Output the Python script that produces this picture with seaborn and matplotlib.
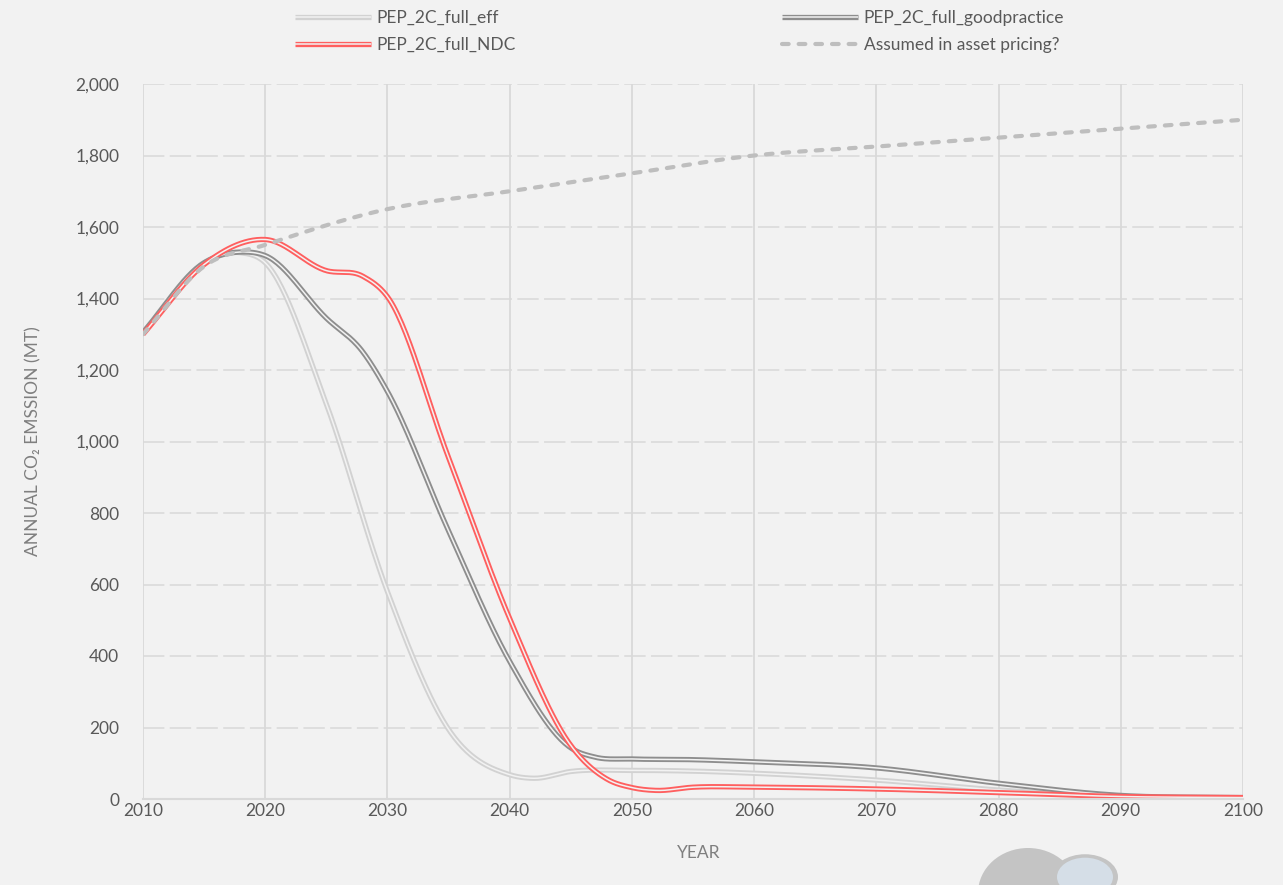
import numpy as np
import pandas as pd
import matplotlib
matplotlib.use("Agg")
import matplotlib.pyplot as plt
import matplotlib.patheffects as pe
from matplotlib.patches import Ellipse, Circle
import seaborn as sns

# ---- data (Mt CO2 per year) ----
eff_years = [2010, 2015, 2018, 2020, 2025, 2030, 2035, 2040, 2042, 2045, 2050, 2055, 2060, 2070, 2080, 2090, 2100]
eff_vals = [1305, 1500, 1528, 1500, 1105, 580, 195, 68, 58, 77, 80, 78, 72, 53, 25, 6, 3]

good_years = [2010, 2015, 2018, 2020, 2025, 2028, 2030, 2035, 2040, 2045, 2047, 2050, 2055, 2060, 2070, 2080, 2090, 2100]
good_vals = [1305, 1500, 1530, 1520, 1345, 1250, 1140, 750, 385, 143, 117, 112, 110, 104, 87, 44, 10, 4]

ndc_years = [2010, 2015, 2020, 2025, 2028, 2030, 2035, 2040, 2045, 2048, 2050, 2052, 2055, 2060, 2070, 2080, 2090, 2100]
ndc_vals = [1300, 1495, 1565, 1478, 1462, 1405, 955, 505, 150, 55, 32, 24, 33, 33, 28, 18, 7, 4]

asset_years = [2010, 2015, 2020, 2030, 2040, 2050, 2060, 2070, 2080, 2090, 2100]
asset_vals = [1300, 1490, 1550, 1650, 1700, 1750, 1800, 1825, 1850, 1875, 1900]

labels = ["PEP_2C_full_eff", "PEP_2C_full_goodpractice", "PEP_2C_full_NDC", "Assumed in asset pricing?"]

x_ticks = list(range(2010, 2101, 10))
y_ticks = list(range(0, 2001, 200))

# ---- style ----
BG = "#F2F2F2"
GRID = "#D9D9D9"
TICK = "#595959"
LABEL = "#7F7F7F"

sns.set_theme(style="white", rc={"axes.facecolor": BG, "figure.facecolor": BG})
plt.rcParams["font.family"] = ["Lato", "DejaVu Sans"]

W, H = 1283, 885
fig = plt.figure(figsize=(W / 100, H / 100), dpi=100)
ax = fig.add_axes([143 / W, 1 - 799 / H, 1100 / W, 715 / H])

X0, X1, Y0, Y1 = 2010, 2100, 0, 2000


def smooth(xs, ys, n=30):
    """Piecewise cubic Hermite curve through every point, with three-point slopes."""
    x = np.asarray(xs, float)
    y = np.asarray(ys, float)
    h = np.diff(x)
    d = np.diff(y) / h
    m = np.empty_like(y)
    m[0], m[-1] = d[0], d[-1]
    for i in range(1, len(x) - 1):
        m[i] = (d[i - 1] * h[i] + d[i] * h[i - 1]) / (h[i - 1] + h[i])
    ox, oy = [x[0]], [y[0]]
    t = np.linspace(0, 1, n + 1)[1:]
    for i in range(len(x) - 1):
        h00 = 2 * t ** 3 - 3 * t ** 2 + 1
        h10 = t ** 3 - 2 * t ** 2 + t
        h01 = -2 * t ** 3 + 3 * t ** 2
        h11 = t ** 3 - t ** 2
        ox.extend(x[i] + t * h[i])
        oy.extend(h00 * y[i] + h10 * h[i] * m[i] + h01 * y[i + 1] + h11 * h[i] * m[i + 1])
    return np.array(ox), np.array(oy)


def double_line(xs, ys, color, label):
    sx, sy = smooth(xs, ys)
    df = pd.DataFrame({"year": sx, "value": sy})
    sns.lineplot(data=df, x="year", y="value", ax=ax, sort=False, estimator=None,
                 color=BG, lw=1.1, label=label, solid_capstyle="butt",
                 path_effects=[pe.Stroke(linewidth=3.8, foreground=color), pe.Normal()])


double_line(eff_years, eff_vals, "#D2D2D2", labels[0])
double_line(good_years, good_vals, "#8E8E8E", labels[1])
double_line(ndc_years, ndc_vals, "#FF5F5F", labels[2])

a_x, a_y = smooth(asset_years, asset_vals)
sns.lineplot(x=a_x, y=a_y, ax=ax, sort=False, estimator=None, color="#BEBEBE", lw=3.0,
             label=labels[3])
asset_line = ax.get_lines()[-1]
asset_line.set_dashes((1.6, 2.4))
asset_line.set_dash_capstyle("round")

if ax.get_legend() is not None:
    ax.get_legend().remove()

# ---- axes ----
ax.set_xlim(X0, X1)
ax.set_ylim(Y0, Y1)
ax.set_xticks(x_ticks)
ax.set_yticks(y_ticks)
ax.set_yticklabels([f"{v:,}" for v in y_ticks])
ax.tick_params(axis="both", length=0, labelsize=12.5, colors=TICK)
ax.tick_params(axis="y", pad=17)
ax.tick_params(axis="x", pad=3)

for s in ["top", "right", "left"]:
    ax.spines[s].set_visible(False)
ax.spines["bottom"].set_color(GRID)
ax.spines["bottom"].set_linewidth(1.5)

ax.grid(False)
for yv in y_ticks[1:]:
    ax.axhline(yv, color=GRID, lw=1.1, dashes=(14, 3.5), zorder=0)
for xv in x_ticks:
    ax.axvline(xv, color=GRID, lw=1.3, zorder=0)

ax.set_xlabel("YEAR", fontsize=12.5, color=LABEL)
ax.set_ylabel("ANNUAL CO\u2082 EMSSION (MT)", fontsize=12.5, color=LABEL)
ax.xaxis.set_label_coords(0.505, -0.065)
ax.yaxis.set_label_coords(-0.092, 0.5)

# ---- legend: two columns placed above the plot ----
lines = ax.get_lines()
h = {ln.get_label(): ln for ln in lines if ln.get_label() in labels}
leg_kw = dict(frameon=False, fontsize=12.5, handlelength=4.4, handletextpad=0.3,
              labelspacing=0.62, borderpad=0, borderaxespad=0, labelcolor=TICK,
              loc="upper left", bbox_transform=fig.transFigure)
leg1 = ax.legend([h[labels[0]], h[labels[2]]], [labels[0], labels[2]],
                 bbox_to_anchor=(295 / W, 1 - 10 / H), **leg_kw)
ax.add_artist(leg1)
ax.legend([h[labels[1]], h[labels[3]]], [labels[1], labels[3]],
          bbox_to_anchor=(782 / W, 1 - 10 / H), **leg_kw)

# ---- small emblem at the lower right ----
fig.patches.append(Ellipse((1028 / W, 1 - 893 / H), 100 / W, 90 / H, transform=fig.transFigure,
                           facecolor="#C4C4C4", edgecolor="none"))
fig.patches.append(Circle((1085 / W, 1 - 877 / H), 33 / W, transform=fig.transFigure,
                          facecolor="#C4C4C4", edgecolor="none"))
fig.patches.append(Circle((1085 / W, 1 - 877 / H), 28 / W, transform=fig.transFigure,
                          facecolor="#D5DEE7", edgecolor="none"))

fig.savefig("out.png", dpi=100, facecolor=BG)
